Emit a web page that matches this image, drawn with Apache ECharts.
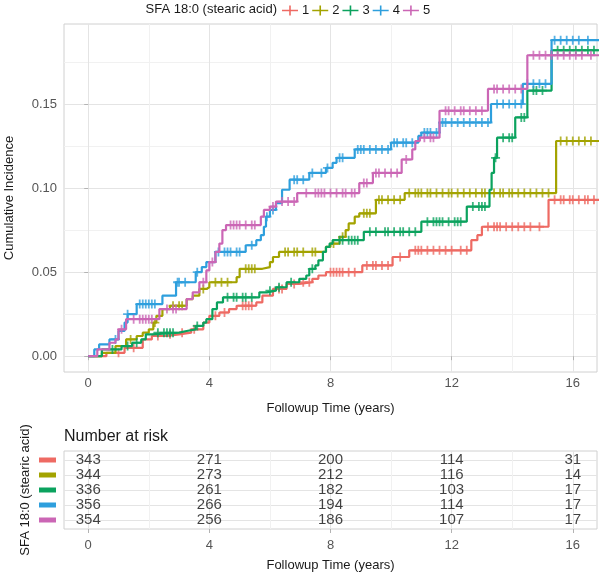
<!DOCTYPE html>
<html>
<head>
<meta charset="utf-8">
<script src="https://cdn.jsdelivr.net/npm/echarts@6/dist/echarts.min.js"></script>
<style>
  html, body { margin: 0; padding: 0; background: #fff; }
  #chart { width: 600px; height: 576px; }
</style>
</head>
<body>
<div id="chart"></div>
<script>
// groups of SFA 18:0 (stearic acid)
const groups = ['1', '2', '3', '4', '5']
const colors = ['#EE6A63', '#A3A300', '#0BA25E', '#2E9FDD', '#CB66B5']

// cumulative incidence steps: [time (years), value from that time on]
const steps1 = [[0, 0], [0.6, 0.002], [1.2, 0.005], [1.8, 0.01], [2.1, 0.012], [2.6, 0.013], [3.0, 0.014], [3.4, 0.016], [3.8, 0.02], [4.0, 0.024], [4.33, 0.026], [4.65, 0.028], [4.9, 0.03], [5.55, 0.032], [5.75, 0.036], [6.1, 0.04], [6.55, 0.043], [6.97, 0.044], [7.4, 0.046], [7.6, 0.048], [7.85, 0.05], [9.05, 0.054], [10.05, 0.059], [10.6, 0.063], [12.65, 0.069], [12.85, 0.072], [13.0, 0.077], [15.2, 0.093], [17.5, 0.093]]
const steps2 = [[0, 0], [0.45, 0.002], [0.9, 0.006], [1.25, 0.01], [1.6, 0.012], [1.8, 0.014], [2.0, 0.016], [2.15, 0.02], [2.25, 0.024], [2.45, 0.028], [2.7, 0.03], [3.25, 0.034], [3.45, 0.036], [3.67, 0.04], [3.9, 0.041], [4.0, 0.044], [4.9, 0.047], [5.0, 0.052], [5.75, 0.053], [6.0, 0.056], [6.1, 0.059], [6.3, 0.062], [7.85, 0.065], [8.0, 0.067], [8.3, 0.071], [8.5, 0.075], [8.6, 0.079], [8.8, 0.083], [8.95, 0.085], [9.5, 0.093], [10.45, 0.097], [15.45, 0.128], [17.5, 0.128]]
const steps3 = [[0, 0], [0.45, 0.004], [1.1, 0.006], [1.45, 0.008], [1.75, 0.01], [1.9, 0.013], [2.1, 0.014], [3.0, 0.015], [3.25, 0.016], [3.55, 0.018], [3.8, 0.02], [3.9, 0.022], [4.1, 0.028], [4.25, 0.032], [4.45, 0.035], [5.65, 0.038], [5.9, 0.039], [6.2, 0.041], [6.55, 0.044], [6.97, 0.046], [7.2, 0.048], [7.3, 0.052], [7.5, 0.054], [7.6, 0.057], [7.75, 0.062], [7.85, 0.065], [7.97, 0.067], [8.07, 0.069], [9.1, 0.074], [11.0, 0.08], [12.5, 0.089], [13.25, 0.099], [13.32, 0.109], [13.4, 0.118], [13.5, 0.13], [14.1, 0.142], [14.5, 0.158], [15.3, 0.182], [17.5, 0.182]]
const steps4 = [[0, 0], [0.2, 0.004], [0.36, 0.007], [0.7, 0.01], [1.0, 0.015], [1.2, 0.02], [1.3, 0.025], [1.6, 0.031], [2.45, 0.036], [2.9, 0.044], [3.55, 0.05], [3.75, 0.053], [3.9, 0.056], [4.2, 0.062], [5.2, 0.066], [5.55, 0.069], [5.7, 0.072], [5.8, 0.077], [5.87, 0.083], [6.0, 0.087], [6.2, 0.091], [6.4, 0.099], [6.65, 0.105], [7.3, 0.109], [7.85, 0.112], [8.07, 0.115], [8.2, 0.118], [8.8, 0.123], [10.0, 0.127], [10.9, 0.131], [11.0, 0.133], [11.6, 0.139], [13.3, 0.15], [14.35, 0.162], [15.3, 0.188], [17.5, 0.188]]
const steps5 = [[0, 0], [0.3, 0.004], [0.7, 0.008], [0.9, 0.01], [1.0, 0.016], [1.25, 0.022], [2.35, 0.028], [3.25, 0.034], [3.45, 0.038], [3.67, 0.044], [3.9, 0.051], [4.0, 0.056], [4.2, 0.062], [4.33, 0.067], [4.43, 0.075], [4.55, 0.078], [5.7, 0.083], [5.8, 0.087], [6.0, 0.089], [6.2, 0.092], [6.9, 0.097], [8.95, 0.103], [9.4, 0.109], [10.35, 0.117], [10.7, 0.123], [10.8, 0.128], [10.95, 0.13], [11.6, 0.146], [13.2, 0.159], [14.5, 0.179], [17.5, 0.179]]

// censoring times (years)
const cens1 = [1.0, 1.5, 2.3, 2.7, 3.1, 3.5, 4.2, 4.5, 5.1, 5.2, 5.3, 5.4, 6.3, 6.4, 6.8, 7.1, 7.3, 8.0, 8.1, 8.2, 8.3, 8.4, 8.6, 8.8, 9.2, 9.4, 9.5, 9.7, 9.9, 10.3, 10.8, 10.9, 11.0, 11.2, 11.4, 11.6, 11.8, 12.0, 12.3, 12.5, 13.2, 13.4, 13.5, 13.6, 13.8, 14.0, 14.2, 14.4, 14.6, 14.9, 15.4, 15.6, 15.7, 15.9, 16.0, 16.2, 16.4, 16.5, 16.7]
const cens2 = [1.4, 2.2, 2.8, 3.0, 3.1, 3.8, 4.2, 4.4, 4.6, 5.2, 5.3, 5.4, 5.5, 6.5, 6.6, 6.8, 6.9, 7.1, 7.4, 7.5, 8.1, 8.4, 9.1, 9.2, 9.3, 9.6, 9.7, 9.9, 10.1, 10.3, 10.6, 10.8, 10.9, 11.0, 11.2, 11.3, 11.5, 11.7, 11.9, 12.0, 12.2, 12.4, 12.6, 12.8, 13.0, 13.1, 13.4, 13.6, 13.7, 13.9, 14.0, 14.2, 14.4, 14.6, 14.8, 15.0, 15.2, 15.6, 15.8, 16.0, 16.2, 16.4, 16.6]
const cens3 = [0.8, 1.3, 1.6, 2.3, 2.5, 2.6, 2.7, 2.8, 3.6, 4.6, 4.8, 4.9, 5.1, 5.2, 5.4, 6.0, 6.3, 6.7, 7.4, 8.3, 8.4, 8.6, 8.7, 8.8, 8.9, 9.3, 9.5, 9.8, 9.9, 10.1, 10.3, 10.4, 10.6, 10.8, 11.2, 11.4, 11.5, 11.6, 11.7, 11.9, 12.1, 12.2, 12.3, 12.7, 12.9, 13.0, 13.1, 13.45, 13.7, 13.9, 14.0, 14.3, 14.4, 14.7, 14.8, 15.0, 15.5, 15.7, 15.9, 16.1, 16.3, 16.5, 16.7]
const cens4 = [0.9, 1.3, 1.7, 1.8, 1.9, 2.0, 2.1, 2.2, 2.95, 3.0, 3.2, 3.6, 4.3, 4.5, 4.6, 4.7, 4.9, 5.0, 5.4, 5.9, 6.1, 6.8, 6.9, 7.1, 7.4, 7.7, 7.9, 8.3, 8.4, 8.9, 9.0, 9.1, 9.3, 9.5, 9.7, 9.9, 10.1, 10.2, 10.4, 10.5, 10.7, 11.1, 11.2, 11.3, 11.5, 11.7, 11.8, 12.0, 12.2, 12.4, 12.6, 12.8, 13.0, 13.2, 13.5, 13.7, 13.9, 14.1, 14.3, 14.5, 14.7, 14.9, 15.1, 15.4, 15.6, 15.8, 16.0, 16.2, 16.5]
const cens5 = [1.1, 1.5, 1.7, 1.8, 1.9, 2.0, 2.1, 2.6, 2.8, 2.9, 3.8, 4.1, 4.7, 4.8, 4.9, 5.0, 5.2, 5.4, 5.5, 6.1, 6.4, 6.6, 6.8, 7.2, 7.5, 7.6, 7.7, 7.8, 8.0, 8.2, 8.4, 8.5, 8.7, 8.8, 9.1, 9.2, 9.5, 9.6, 9.8, 10.0, 10.2, 10.5, 11.1, 11.3, 11.4, 11.8, 11.9, 12.1, 12.3, 12.4, 12.6, 12.8, 13.0, 13.4, 13.5, 13.7, 13.9, 14.1, 14.3, 14.7, 14.9, 15.1, 15.3, 15.5, 15.7, 15.9, 16.1, 16.3, 16.6]

// number at risk table
const riskTimes = [0, 4, 8, 12, 16]
const risk1 = [343, 271, 200, 114, 31]
const risk2 = [344, 273, 212, 116, 14]
const risk3 = [336, 261, 182, 103, 17]
const risk4 = [356, 266, 194, 114, 17]
const risk5 = [354, 256, 186, 107, 17]

const xTicks = [0, 4, 8, 12, 16]
const xMinor = [2, 6, 10, 14]
const yTicks = [0, 0.05, 0.1, 0.15]
const yMinor = [0.025, 0.075, 0.125, 0.175]

const allSteps = [steps1, steps2, steps3, steps4, steps5]
const allCens = [cens1, cens2, cens3, cens4, cens5]
const allRisk = [risk1, risk2, risk3, risk4, risk5]

const FONT = '"Liberation Sans", Arial, sans-serif'
const plusPath = 'path://M0,4h10v2h-10zM4,0h2v10h-2z'
const legendPath = 'path://M0,4.2h16v1.6h-16zM7.2,0h1.6v10h-1.6z'

// value of a step curve at time t
const stepAt = (steps, t) => {
  let v = 0
  for (const [x, y] of steps) {
    if (x <= t) v = y
  }
  return v
}

const X_MIN = -0.8
const X_MAX = 16.8

const chart = echarts.init(document.getElementById('chart'), null, { renderer: 'canvas' })

const majorLine = { lineStyle: { color: '#e4e4e4', width: 1 } }
const minorLine = { lineStyle: { color: '#f1f1f1', width: 1 } }

const xAxisBase = (gridIndex, name, gap, labelMargin) => ({
  type: 'value',
  gridIndex: gridIndex,
  min: X_MIN,
  max: X_MAX,
  name: name,
  nameLocation: 'middle',
  nameGap: gap,
  nameMoveOverlap: false,
  nameTextStyle: { fontFamily: FONT, fontSize: 13, color: '#1a1a1a' },
  axisLine: { show: false },
  axisTick: { show: true, length: 4, customValues: xTicks, lineStyle: { color: '#b3b3b3' } },
  axisLabel: { customValues: xTicks, fontFamily: FONT, fontSize: 13, color: '#555', margin: labelMargin, formatter: (v) => String(v) },
  splitLine: { show: true, ...majorLine }
})

const xMinorAxis = (gridIndex) => ({
  type: 'value',
  gridIndex: gridIndex,
  min: X_MIN,
  max: X_MAX,
  axisLine: { show: false },
  axisTick: { show: false, customValues: xMinor },
  axisLabel: { show: false, customValues: xMinor },
  splitLine: { show: true, ...minorLine }
})

const option = {
  animation: false,
  backgroundColor: '#fff',
  textStyle: { fontFamily: FONT },
  graphic: [
    {
      type: 'text',
      right: 600 - 277,
      top: 3,
      style: { text: 'SFA 18:0 (stearic acid)', font: '13px ' + FONT, fill: '#1a1a1a' }
    },
    {
      type: 'text',
      left: 64,
      top: 429,
      style: { text: 'Number at risk', font: '16px ' + FONT, fill: '#1a1a1a' }
    }
  ],
  legend: {
    left: 282,
    top: 4,
    padding: 0,
    itemWidth: 16,
    itemHeight: 10,
    itemGap: 3,
    textStyle: { fontFamily: FONT, fontSize: 13, color: '#1a1a1a', padding: [0, 0, 0, -1] },
    data: groups.map((g) => ({ name: g, icon: legendPath }))
  },
  grid: [
    { left: 64, right: 3, top: 24, height: 348, outerBoundsMode: 'none', containLabel: false, show: true, borderColor: '#d0d0d0', borderWidth: 1, backgroundColor: '#fff' },
    { left: 64, right: 3, top: 451, height: 78, outerBoundsMode: 'none', containLabel: false, show: true, borderColor: '#d0d0d0', borderWidth: 1, backgroundColor: '#fff' }
  ],
  xAxis: [
    xAxisBase(0, 'Followup Time (years)', 30, 5),
    xMinorAxis(0),
    xAxisBase(1, 'Followup Time (years)', 30, 10),
    xMinorAxis(1)
  ],
  yAxis: [
    {
      type: 'value',
      gridIndex: 0,
      min: -0.0094,
      max: 0.1976,
      name: 'Cumulative Incidence',
      nameLocation: 'middle',
      nameGap: 48,
      nameMoveOverlap: false,
      nameTextStyle: { fontFamily: FONT, fontSize: 13, color: '#1a1a1a' },
      axisLine: { show: false },
      axisTick: { show: true, length: 4, customValues: yTicks, lineStyle: { color: '#b3b3b3' } },
      axisLabel: { customValues: yTicks, fontFamily: FONT, fontSize: 13, color: '#555', margin: 7, formatter: (v) => v.toFixed(2) },
      splitLine: { show: true, ...majorLine }
    },
    {
      type: 'value',
      gridIndex: 0,
      position: 'left',
      min: -0.0094,
      max: 0.1976,
      axisLine: { show: false },
      axisTick: { show: false, customValues: yMinor },
      axisLabel: { show: false, customValues: yMinor },
      splitLine: { show: true, ...minorLine }
    },
    {
      type: 'value',
      gridIndex: 1,
      min: 0.4,
      max: 5.6,
      inverse: true,
      name: 'SFA 18:0 (stearic acid)',
      nameLocation: 'middle',
      nameGap: 32,
      nameMoveOverlap: false,
      nameTextStyle: { fontFamily: FONT, fontSize: 13, color: '#1a1a1a' },
      axisLine: { show: false },
      axisTick: { show: false, customValues: [1, 2, 3, 4, 5] },
      axisLabel: {
        customValues: [1, 2, 3, 4, 5],
        margin: 8,
        formatter: (v) => '{g' + v + '| }',
        rich: Object.fromEntries(colors.map((c, i) => ['g' + (i + 1), { backgroundColor: c, width: 17, height: 5, fontSize: 1, lineHeight: 5 }]))
      },
      splitLine: { show: true, ...majorLine }
    }
  ],
  series: []
}

// cumulative incidence curves
allSteps.forEach((steps, i) => {
  option.series.push({
    name: groups[i],
    type: 'line',
    xAxisIndex: 0,
    yAxisIndex: 0,
    step: 'end',
    showSymbol: false,
    clip: true,
    data: steps,
    color: colors[i],
    lineStyle: { width: 2.2, color: colors[i] },
    z: 3 + i
  })
})

// censoring marks
allCens.forEach((cens, i) => {
  option.series.push({
    name: groups[i],
    type: 'scatter',
    xAxisIndex: 0,
    yAxisIndex: 0,
    symbol: plusPath,
    symbolSize: 9,
    clip: true,
    data: cens.map((t) => [t, stepAt(allSteps[i], t)]),
    itemStyle: { color: colors[i] },
    z: 3 + i
  })
})

// number at risk
allRisk.forEach((risk, i) => {
  option.series.push({
    type: 'scatter',
    xAxisIndex: 2,
    yAxisIndex: 2,
    symbolSize: 0,
    silent: true,
    data: risk.map((n, j) => [riskTimes[j], i + 1, n]),
    label: {
      show: true,
      position: 'inside',
      formatter: (p) => String(p.data[2]),
      fontFamily: FONT,
      fontSize: 15,
      color: '#111'
    }
  })
})

chart.setOption(option)
</script>
</body>
</html>
